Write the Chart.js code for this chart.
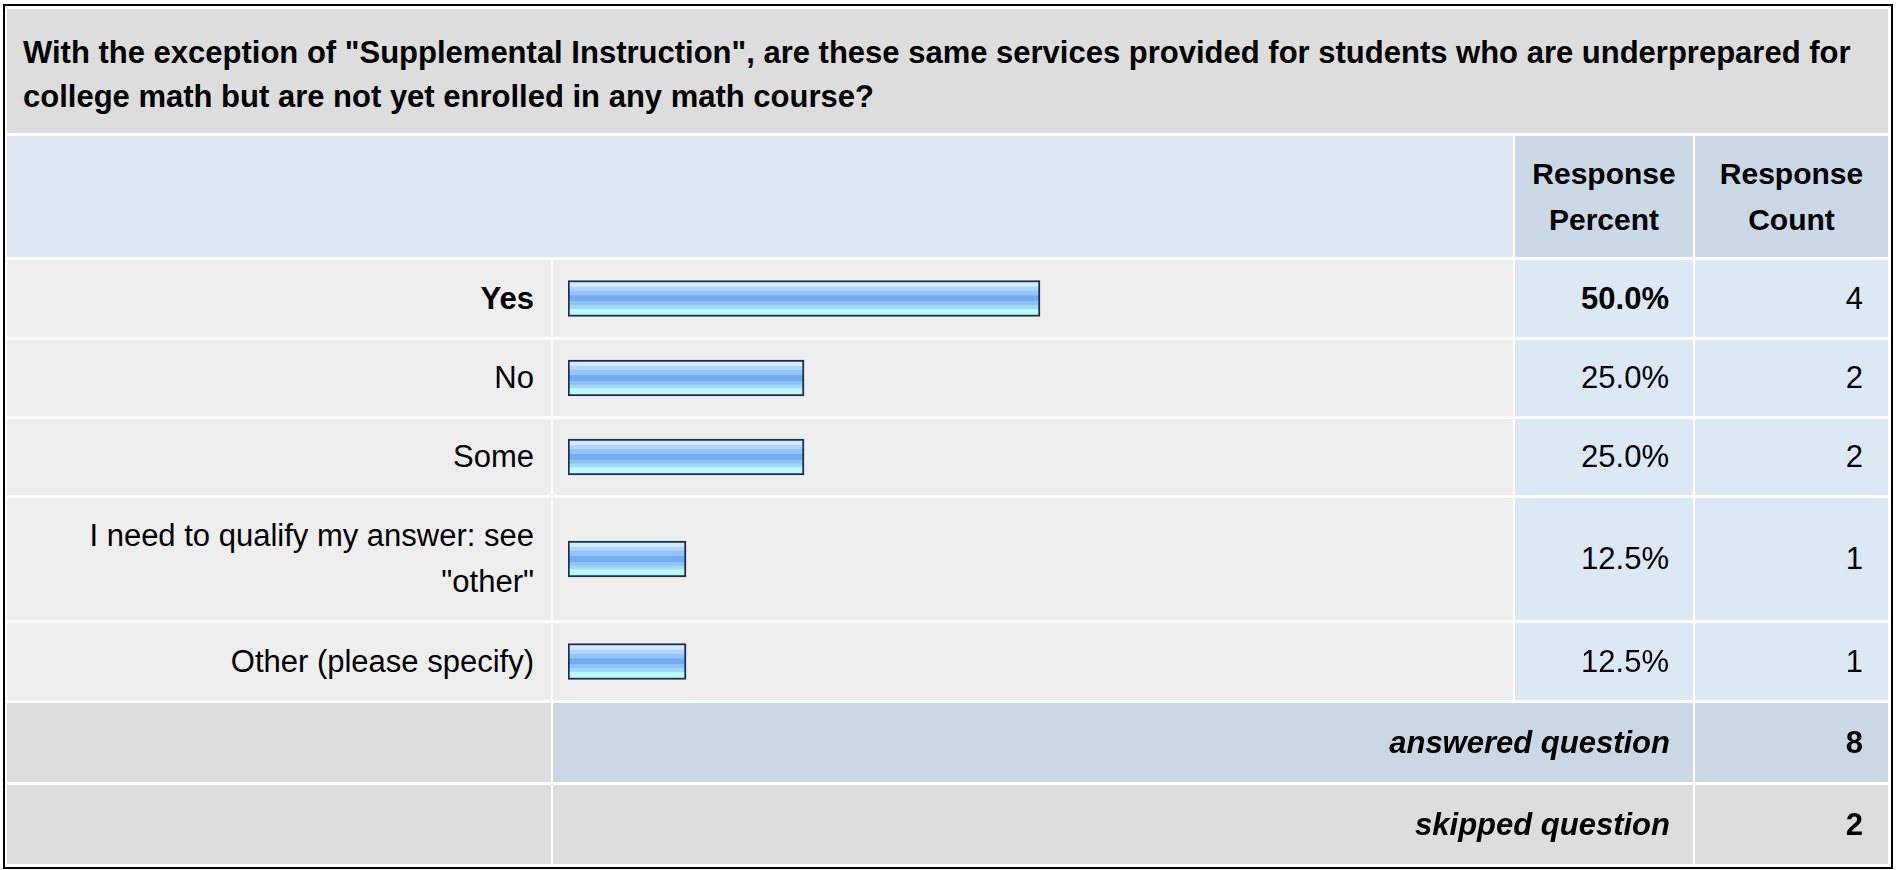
<!DOCTYPE html>
<html>
<head>
<meta charset="utf-8">
<script src="https://cdn.jsdelivr.net/npm/chart.js"></script>
<style>
  html, body { margin: 0; padding: 0; background: #fff; }
  body { width: 1903px; height: 870px; position: relative; overflow: hidden;
         font-family: "Liberation Sans", Arial, sans-serif; color: #000; }
  #survey {
    position: absolute; left: 3px; top: 4px;
    border: 2px solid #000; padding: 3px 3px 3px 2px; background: #fff;
    display: grid;
    grid-template-columns: 544px 960px 178px 193px;
    grid-template-rows: 124px 121px 77px 76px 76px 122px 77px 79px 79px;
    column-gap: 2px; row-gap: 3px;
  }
  .cell { display: flex; align-items: center; box-sizing: border-box; font-size: 31px; line-height: 46px; }
  .title { grid-column: 1 / 5; background: #dddddd; font-weight: bold; font-size: 31px;
           line-height: 44px; padding: 8px 0 0 16px; white-space: nowrap; }
  .head-blank { grid-column: 1 / 3; background: #dde8f5; }
  .head { background: #cbd8e6; font-weight: bold; font-size: 30px; justify-content: center; text-align: center; }
  .label { background: #eeeeee; justify-content: flex-end; text-align: right; padding: 0 17px 0 10px; }
  .bar { background: #eeeeee; padding: 0; }
  .bar canvas { display: block; }
  .pct { background: #dde8f5; justify-content: flex-end; padding-right: 24px; }
  .cnt { background: #dde8f5; justify-content: flex-end; padding-right: 25px; }
  .b { font-weight: bold; }
  .foot-label { background: #dddddd; }
  .foot-span { grid-column: 2 / 4; justify-content: flex-end; padding-right: 23px;
               font-weight: bold; font-style: italic; }
  .foot-cnt { justify-content: flex-end; padding-right: 25px; font-weight: bold; }
  .blue { background: #cbd7e5; }
  .grey { background: #dddddd; }
</style>
</head>
<body>
<div id="survey"></div>
<script>
const questionLines = [
  'With the exception of "Supplemental Instruction", are these same services provided for students who are underprepared for',
  'college math but are not yet enrolled in any math course?'
];
const categories = ['Yes', 'No', 'Some', 'I need to qualify my answer: see "other"', 'Other (please specify)'];
const responsePercent = [50.0, 25.0, 25.0, 12.5, 12.5];
const responseCount = [4, 2, 2, 1, 1];
const answeredCount = 8;
const skippedCount = 2;
const rowHeights = [77, 76, 76, 122, 77];

const survey = document.getElementById('survey');
function addCell(cls, html) {
  const d = document.createElement('div');
  d.className = 'cell ' + cls;
  if (html !== undefined) d.innerHTML = html;
  survey.appendChild(d);
  return d;
}
function esc(s) { return s.replace(/&/g, '&amp;').replace(/</g, '&lt;'); }

addCell('title', '<div>' + questionLines.map(esc).join('<br>') + '</div>');
addCell('head-blank');
addCell('head', '<div>Response<br>Percent</div>');
addCell('head', '<div>Response<br>Count</div>');

const maxPct = Math.max(...responsePercent);

// banded fill like the original survey bars
function barFill(ctx) {
  const area = ctx.chart.chartArea;
  if (!area) return '#8fc0fb';
  const mid = (area.top + area.bottom) / 2;
  const g = ctx.chart.ctx.createLinearGradient(0, mid - 16, 0, mid + 16);
  const bands = [
    [0, '#d4eaff'], [0.12, '#d4eaff'], [0.13, '#b0d6ff'], [0.25, '#b0d6ff'],
    [0.26, '#93c4fc'], [0.40, '#93c4fc'], [0.41, '#74acef'], [0.58, '#74acef'],
    [0.59, '#8ec2fa'], [0.70, '#8ec2fa'], [0.71, '#a2d6fd'], [0.82, '#a2d6fd'],
    [0.83, '#b8faff'], [1, '#b8faff']
  ];
  bands.forEach(([o, c]) => g.addColorStop(o, c));
  return g;
}

categories.forEach((cat, i) => {
  const top = responsePercent[i] === maxPct;
  addCell('label' + (top ? ' b' : ''), '<div>' + esc(cat) + '</div>');
  const barCell = addCell('bar');
  const canvas = document.createElement('canvas');
  canvas.width = 960;
  canvas.height = rowHeights[i];
  barCell.appendChild(canvas);
  addCell('pct' + (top ? ' b' : ''), responsePercent[i].toFixed(1) + '%');
  addCell('cnt', String(responseCount[i]));

  new Chart(canvas, {
    type: 'bar',
    data: {
      labels: [cat],
      datasets: [{
        data: [responsePercent[i]],
        barThickness: 36,
        borderWidth: 2,
        borderColor: '#1b2d4f',
        borderSkipped: false,
        backgroundColor: barFill
      }]
    },
    options: {
      indexAxis: 'y',
      responsive: false,
      animation: false,
      layout: { padding: { left: 15, right: 1, top: 0, bottom: 0 } },
      plugins: { legend: { display: false }, tooltip: { enabled: false } },
      scales: {
        x: { display: false, min: 0, max: 100 },
        y: { display: false }
      }
    }
  });
});

addCell('foot-label');
addCell('foot-span blue', 'answered question');
addCell('foot-cnt blue', String(answeredCount));
addCell('foot-label');
addCell('foot-span grey', 'skipped question');
addCell('foot-cnt grey', String(skippedCount));
</script>
</body>
</html>
